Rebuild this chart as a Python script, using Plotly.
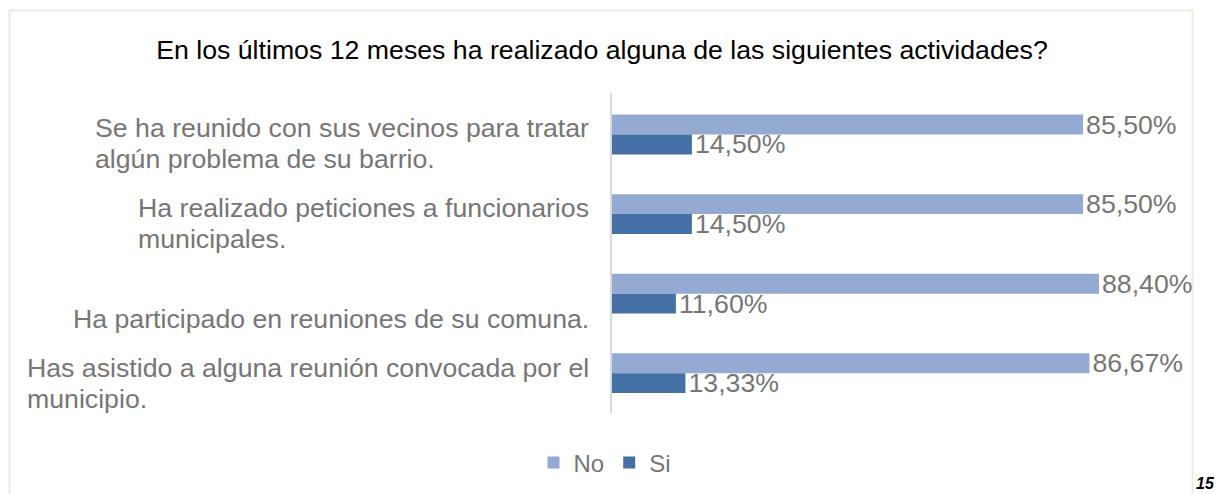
import plotly.graph_objects as go

categories = [
    ["Se ha reunido con sus vecinos para tratar", "algún problema de su barrio."],
    ["Ha realizado peticiones a funcionarios", "municipales."],
    ["Ha participado en reuniones de su comuna."],
    ["Has asistido a alguna reunión convocada por el", "municipio."],
]
no_values = [85.50, 85.50, 88.40, 86.67]
si_values = [14.50, 14.50, 11.60, 13.33]
title_text = "En los últimos 12 meses ha realizado alguna de las siguientes actividades?"
series_names = ["No", "Si"]
page_number = "15"

# style
label_shift = [-9, -9, -25, -10]
GRAY = "#767676"
FONT = "Arial, Liberation Sans, sans-serif"
BIG = 26.7


def fmt(v):
    return f"{v:.2f}".replace(".", ",") + "%"


ids = list(range(len(categories)))

fig = go.Figure()
for name, vals, color in [(series_names[0], no_values, "#95AAD2"),
                          (series_names[1], si_values, "#4470A6")]:
    fig.add_trace(go.Bar(
        y=ids, x=vals, orientation="h", name=name,
        marker=dict(color=color, line=dict(width=0)),
        text=[fmt(v) for v in vals], textposition="outside",
        constraintext="none",
        textfont=dict(size=BIG, color=GRAY, family=FONT), cliponaxis=False,
    ))

W, H = 1218, 494
L, T, PH = 612, 93, 320
PW = W - L

annotations = []
for i, lines in enumerate(categories):
    txt = "<br>".join(f"<span style='font-size:{BIG}px'>{ln}</span>" for ln in lines)
    annotations.append(dict(
        x=0, xref="paper", y=i, yref="y", text=txt, showarrow=False,
        xanchor="right", align="left", xshift=-21, yshift=label_shift[i],
        font=dict(size=24, color=GRAY, family=FONT),
    ))
annotations.append(dict(
    x=(1205 - L) / PW, xref="paper", y=(T + PH - 483) / PH, yref="paper",
    text=f"<b><i>{page_number}</i></b>",
    showarrow=False, xanchor="center", yanchor="middle",
    font=dict(size=16, color="#000000", family=FONT),
))

fig.update_layout(
    width=W, height=H,
    margin=dict(l=L, r=0, t=T, b=H - T - PH),
    paper_bgcolor="white", plot_bgcolor="white",
    barmode="group", bargap=0.5, bargroupgap=0,
    title=dict(text=title_text, x=602 / W, xref="container", y=1 - 50 / H,
               yref="container", xanchor="center", yanchor="middle",
               font=dict(size=BIG, color="#000000", family=FONT)),
    xaxis=dict(range=[0, 110], visible=False, fixedrange=True),
    yaxis=dict(autorange="reversed", showticklabels=False, showgrid=False,
               zeroline=False, showline=True, linecolor="#D9D9D9", linewidth=1.5,
               ticks=""),
    legend=dict(orientation="h", xref="container", yref="container",
                x=605 / W, y=1 - 463 / H, xanchor="center", yanchor="middle",
                font=dict(size=24, color=GRAY, family=FONT),
                itemwidth=30, traceorder="normal"),
    annotations=annotations,
    shapes=[dict(type="rect", xref="paper", yref="paper",
                 x0=(9.5 - L) / PW, x1=(1192.5 - L) / PW,
                 y0=(T + PH - 10.5) / PH, y1=(T + PH - 505) / PH,
                 line=dict(color="#EDEBE0", width=2), fillcolor="rgba(0,0,0,0)",
                 layer="below")],
    font=dict(family=FONT),
)

fig.write_html(
    "out.html",
    config={"displayModeBar": False},
    post_script="document.body.style.margin='0';document.body.style.overflow='hidden';",
)
